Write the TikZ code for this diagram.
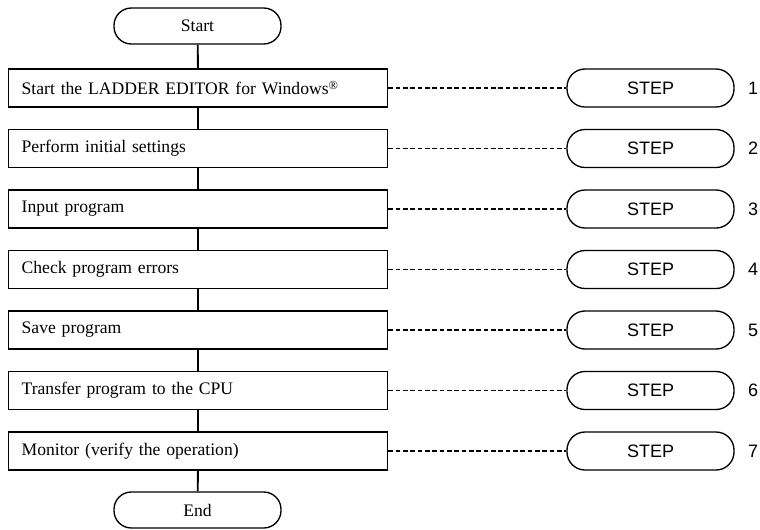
\documentclass[tikz,border=0pt]{standalone}
\usepackage{fontspec}
\setmainfont{Liberation Serif}
\newfontfamily\stepfont{Liberation Sans}
\usetikzlibrary{positioning}

\begin{document}
\begin{tikzpicture}[x=0.75pt, y=-0.75pt,
        term/.style={draw, line width=1pt, rounded corners=13pt, minimum width=125.25pt, minimum height=27pt, inner sep=0pt, font=\fontsize{13.2pt}{15pt}\selectfont},
        proc/.style={draw, line width=1pt, anchor=west, minimum height=28.5pt, inner xsep=9.75pt, inner ysep=0pt, text width=264.75pt, align=left, font=\fontsize{13.2pt}{15pt}\selectfont},
        stepbox/.style={draw, line width=1pt, rounded corners=13.5pt, minimum width=125.25pt, minimum height=28.5pt, inner sep=0pt, font=\stepfont\fontsize{13.5pt}{15pt}\selectfont},
        num/.style={font=\stepfont\fontsize{13.5pt}{15pt}\selectfont},
        flow/.style={line width=1.4pt},
        link/.style={line width=1.2pt, dash pattern=on 3.5pt off 2pt}]

        \useasboundingbox (0,0) rectangle (760,529);

        \node[term] (start) at (197.5,26) {Start};

        \node[proc] (p1) at (8,88) {Start the LADDER EDITOR for Windows\textsuperscript{\textregistered}};
        \node[proc] (p2) at (8,148.5) {Perform initial settings};
        \node[proc] (p3) at (8,209) {Input program};
        \node[proc] (p4) at (8,269.5) {Check program errors};
        \node[proc] (p5) at (8,330) {Save program};
        \node[proc] (p6) at (8,390.5) {Transfer program to the CPU};
        \node[proc] (p7) at (8,451) {Monitor (verify the operation)};

        \node[term] (end) at (197.5,510) {End};

        \node[stepbox] (s1) at (650.5,88) {STEP};
        \node[stepbox] (s2) at (650.5,148.5) {STEP};
        \node[stepbox] (s3) at (650.5,209) {STEP};
        \node[stepbox] (s4) at (650.5,269.5) {STEP};
        \node[stepbox] (s5) at (650.5,330) {STEP};
        \node[stepbox] (s6) at (650.5,390.5) {STEP};
        \node[stepbox] (s7) at (650.5,451) {STEP};

        \node[num] (n1) at (753,88) {1};
        \node[num] (n2) at (753,148.5) {2};
        \node[num] (n3) at (753,209) {3};
        \node[num] (n4) at (753,269.5) {4};
        \node[num] (n5) at (753,330) {5};
        \node[num] (n6) at (753,390.5) {6};
        \node[num] (n7) at (753,451) {7};

        \draw[flow] (start) -- (p1);
        \draw[flow] (p1) -- (p2);
        \draw[flow] (p2) -- (p3);
        \draw[flow] (p3) -- (p4);
        \draw[flow] (p4) -- (p5);
        \draw[flow] (p5) -- (p6);
        \draw[flow] (p6) -- (p7);
        \draw[flow] (p7) -- (end);

        \draw[link] (p1) -- (s1);
        \draw[link] (p2) -- (s2);
        \draw[link] (p3) -- (s3);
        \draw[link] (p4) -- (s4);
        \draw[link] (p5) -- (s5);
        \draw[link] (p6) -- (s6);
        \draw[link] (p7) -- (s7);
      \end{tikzpicture}
\end{document}
